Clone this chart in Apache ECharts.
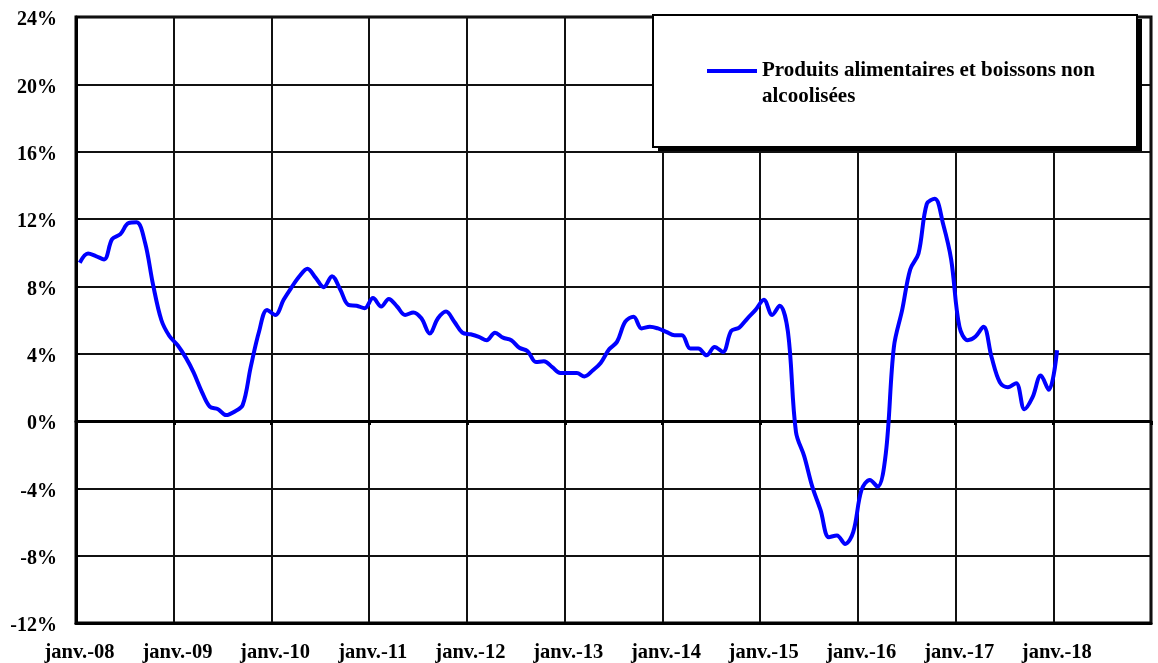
<!DOCTYPE html>
<html lang="fr">
<head>
<meta charset="utf-8">
<title>Produits alimentaires et boissons non alcoolisées</title>
<script src="https://cdn.jsdelivr.net/npm/echarts@6/dist/echarts.min.js"></script>
<style>
  html, body { margin: 0; padding: 0; background: #ffffff; }
  #chart { width: 1158px; height: 663px; }
</style>
</head>
<body>
<div id="chart"></div>
<script>
// Glissement annuel mensuel (%), une valeur par mois, datée au 15 du mois
const seriesName = 'Produits alimentaires et boissons non alcoolisées';
const years = [2008, 2009, 2010, 2011, 2012, 2013, 2014, 2015, 2016, 2017, 2018];
const v2008 = [9.4, 9.95, 9.8, 9.6, 10.8, 11.1, 11.75, 11.8, 10.6, 8.1, 6.0, 5.05];
const v2009 = [4.5, 3.75, 2.9, 1.75, 0.85, 0.7, 0.35, 0.55, 0.95, 3.2, 5.3, 6.6];
const v2010 = [6.3, 7.2, 7.9, 8.6, 9.05, 8.5, 7.95, 8.6, 7.8, 6.9, 6.85, 6.7];
const v2011 = [7.3, 6.8, 7.25, 6.8, 6.3, 6.45, 6.1, 5.2, 6.1, 6.5, 5.9, 5.25];
const v2012 = [5.15, 5.0, 4.8, 5.25, 4.95, 4.8, 4.35, 4.15, 3.5, 3.55, 3.2, 2.85];
const v2013 = [2.85, 2.85, 2.65, 3.0, 3.45, 4.25, 4.7, 5.9, 6.2, 5.5, 5.6, 5.5];
const v2014 = [5.3, 5.1, 5.1, 4.3, 4.3, 3.9, 4.4, 4.1, 5.35, 5.55, 6.1, 6.6];
const v2015 = [7.2, 6.3, 6.85, 5.3, -0.65, -2.1, -3.9, -5.3, -6.9, -6.8, -7.3, -6.6];
const v2016 = [-4.1, -3.5, -3.9, -1.9, 4.4, 6.6, 9.0, 9.95, 12.9, 13.2, 11.7, 9.6];
const v2017 = [5.6, 4.8, 5.0, 5.6, 3.8, 2.3, 2.0, 2.25, 0.7, 1.4, 2.7, 1.85];
const v2018 = [4.2];
const yearlyValues = [v2008, v2009, v2010, v2011, v2012, v2013, v2014, v2015, v2016, v2017, v2018];

// Étiquettes de l'axe des dates (une par année)
const tickLabels = ['janv.-08', 'janv.-09', 'janv.-10', 'janv.-11', 'janv.-12', 'janv.-13',
                    'janv.-14', 'janv.-15', 'janv.-16', 'janv.-17', 'janv.-18'];

// Échelle verticale (%)
const yMin = -12, yMax = 24, yStep = 4;

const points = [];
yearlyValues.forEach((vals, i) => {
  vals.forEach((v, m) => points.push([new Date(years[i], m, 15).getTime(), v]));
});

const DAY = 24 * 3600 * 1000;
const xMin = new Date(2008, 0, 1).getTime();
const xMax = new Date(2019, 0, 1).getTime();
const FONT = '"Liberation Serif", "Times New Roman", serif';

const chart = echarts.init(document.getElementById('chart'), null, { renderer: 'canvas' });

chart.setOption({
  backgroundColor: '#ffffff',
  animation: false,
  grid: {
    left: 76, right: 7, top: 17, bottom: 40,
    show: true, borderColor: '#000', borderWidth: 3, backgroundColor: 'transparent'
  },
  xAxis: [
    {
      type: 'time', min: xMin, max: xMax,
      minInterval: 365 * DAY, maxInterval: 366 * DAY,
      axisLine: { onZero: false, lineStyle: { color: '#000', width: 3 } },
      axisTick: { show: false },
      axisLabel: {
        color: '#000', fontFamily: FONT, fontWeight: 'bold', fontSize: 20.5,
        margin: 19, padding: [0, 0, 0, 7],
        showMaxLabel: false,
        formatter: function (val) {
          const d = new Date(val);
          const idx = years.indexOf(d.getFullYear());
          return (d.getMonth() === 0 && idx >= 0) ? tickLabels[idx] : '';
        }
      },
      splitLine: { show: true, lineStyle: { color: '#111', width: 2 } }
    },
    {
      // ligne de l'axe horizontal passant par 0 %
      type: 'time', min: xMin, max: xMax, position: 'top',
      minInterval: 365 * DAY, maxInterval: 366 * DAY,
      axisLine: { onZero: true, lineStyle: { color: '#000', width: 3 } },
      axisTick: { show: true, inside: true, length: 4, lineStyle: { color: '#000', width: 3 } },
      axisLabel: { show: false },
      splitLine: { show: false }
    }
  ],
  yAxis: {
    type: 'value', min: yMin, max: yMax, interval: yStep,
    axisLine: { show: true, lineStyle: { color: '#000', width: 3 } },
    axisTick: { show: true, inside: true, length: 4, lineStyle: { color: '#000', width: 2 } },
    axisLabel: {
      margin: 19,
      formatter: function (v) { return '{p|' + v + '%}'; },
      rich: {
        p: {
          color: '#000', fontFamily: FONT, fontWeight: 'bold', fontSize: 20,
          lineHeight: 26, verticalAlign: 'bottom'
        }
      }
    },
    splitLine: { show: true, lineStyle: { color: '#111', width: 2 } }
  },
  graphic: [
    { type: 'rect', z: 10, shape: { x: 658, y: 19, width: 484, height: 132 },
      style: { fill: '#000' } },
    { type: 'rect', z: 11, shape: { x: 653, y: 15, width: 484, height: 132 },
      style: { fill: '#fff', stroke: '#000', lineWidth: 2 } }
  ],
  legend: {
    z: 20, left: 707, top: 32, padding: 0,
    icon: 'rect', itemWidth: 50, itemHeight: 4,
    selectedMode: false,
    // une ligne vide en tête pour aligner la première ligne du libellé sur le trait
    formatter: function (name) { return '\n' + name.replace(' alcoolisées', '\nalcoolisées'); },
    textStyle: {
      color: '#000', fontFamily: FONT, fontWeight: 'bold', fontSize: 21,
      lineHeight: 26
    }
  },
  series: [{
    name: seriesName,
    type: 'line',
    xAxisIndex: 0,
    data: points,
    smooth: 0.35,
    showSymbol: false,
    itemStyle: { color: '#0000ff' },
    lineStyle: { color: '#0000ff', width: 4 },
    z: 5
  }]
});
</script>
</body>
</html>
